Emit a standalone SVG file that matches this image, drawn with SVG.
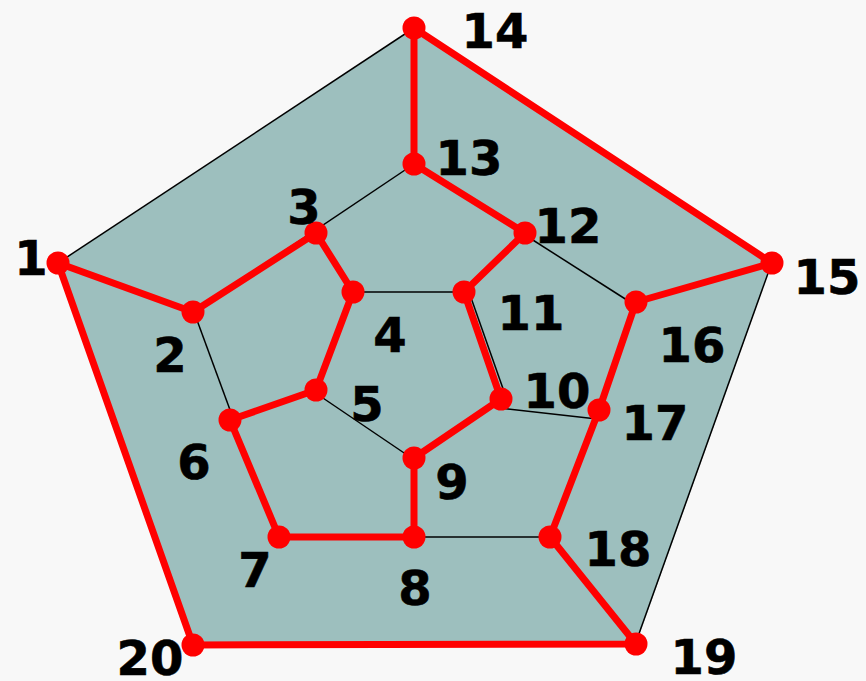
<svg xmlns="http://www.w3.org/2000/svg" width="866" height="681" viewBox="0 0 866 681">
<style>
.bg{fill:#f8f8f8}
.face{fill:#9dbfbe;stroke:none}
.thin{stroke:#000;stroke-width:1.5;fill:none}
.red{stroke:#ff0000;stroke-width:7;fill:none;stroke-linecap:round;stroke-linejoin:round}
.dot{fill:#ff0000}
.lbl{font-family:"DejaVu Sans",Verdana,sans-serif;font-weight:bold;font-size:48px;fill:#000;stroke:#000;stroke-width:0.6;text-anchor:middle}
</style>
<rect class="bg" x="0" y="0" width="866" height="681"/>
<polygon id="face" class="face" points="414,28 772,263 636,644 193,645 58,263"/>
<g id="connectors">
  <g id="edges-thin">
    <line class="thin" x1="414" y1="28" x2="58" y2="263"/>
    <line class="thin" x1="414" y1="164" x2="195" y2="311"/>
    <line class="thin" x1="194" y1="312" x2="233" y2="418"/>
    <line class="thin" x1="353" y1="292" x2="464" y2="292"/>
    <line class="thin" x1="317" y1="394" x2="413" y2="459"/>
    <line class="thin" x1="469" y1="292" x2="507" y2="400"/>
    <line class="thin" x1="500" y1="408" x2="597" y2="419"/>
    <line class="thin" x1="525" y1="235" x2="630" y2="302"/>
    <line class="thin" x1="414" y1="537" x2="550" y2="537"/>
    <line class="thin" x1="771" y1="265" x2="636" y2="642"/>
  </g>
  <polygon id="hamiltonian-cycle" class="red" points="58,263 193,312 316,233 353,292 316,390 230,420 279,537 414,537 414,458 501,399 464,292 525,233 414,164 414,28 772,263 636,302 599,410 550,537 636,644 193,645"/>
</g>
<g id="n1"><circle class="dot" cx="58" cy="263" r="11.5"/><text class="lbl" x="31" y="275">1</text></g>
<g id="n2"><circle class="dot" cx="193" cy="312" r="11.5"/><text class="lbl" x="170" y="372">2</text></g>
<g id="n3"><circle class="dot" cx="316" cy="233" r="11.5"/><text class="lbl" x="304" y="224">3</text></g>
<g id="n4"><circle class="dot" cx="353" cy="292" r="11.5"/><text class="lbl" x="390" y="352">4</text></g>
<g id="n5"><circle class="dot" cx="316" cy="390" r="11.5"/><text class="lbl" x="367" y="421">5</text></g>
<g id="n6"><circle class="dot" cx="230" cy="420" r="11.5"/><text class="lbl" x="194" y="479">6</text></g>
<g id="n7"><circle class="dot" cx="279" cy="537" r="11.5"/><text class="lbl" x="255" y="587">7</text></g>
<g id="n8"><circle class="dot" cx="414" cy="537" r="11.5"/><text class="lbl" x="415" y="605">8</text></g>
<g id="n9"><circle class="dot" cx="414" cy="458" r="11.5"/><text class="lbl" x="452" y="499">9</text></g>
<g id="n10"><circle class="dot" cx="501" cy="399" r="11.5"/><text class="lbl" x="557" y="408">10</text></g>
<g id="n11"><circle class="dot" cx="464" cy="292" r="11.5"/><text class="lbl" x="531" y="330">11</text></g>
<g id="n12"><circle class="dot" cx="525" cy="233" r="11.5"/><text class="lbl" x="568" y="243">12</text></g>
<g id="n13"><circle class="dot" cx="414" cy="164" r="11.5"/><text class="lbl" x="469" y="175">13</text></g>
<g id="n14"><circle class="dot" cx="414" cy="28" r="11.5"/><text class="lbl" x="495" y="48">14</text></g>
<g id="n15"><circle class="dot" cx="772" cy="263" r="11.5"/><text class="lbl" x="827" y="294">15</text></g>
<g id="n16"><circle class="dot" cx="636" cy="302" r="11.5"/><text class="lbl" x="692" y="362">16</text></g>
<g id="n17"><circle class="dot" cx="599" cy="410" r="11.5"/><text class="lbl" x="655" y="440">17</text></g>
<g id="n18"><circle class="dot" cx="550" cy="537" r="11.5"/><text class="lbl" x="618" y="566">18</text></g>
<g id="n19"><circle class="dot" cx="636" cy="644" r="11.5"/><text class="lbl" x="704" y="674">19</text></g>
<g id="n20"><circle class="dot" cx="193" cy="645" r="11.5"/><text class="lbl" x="150" y="675">20</text></g>
</svg>
